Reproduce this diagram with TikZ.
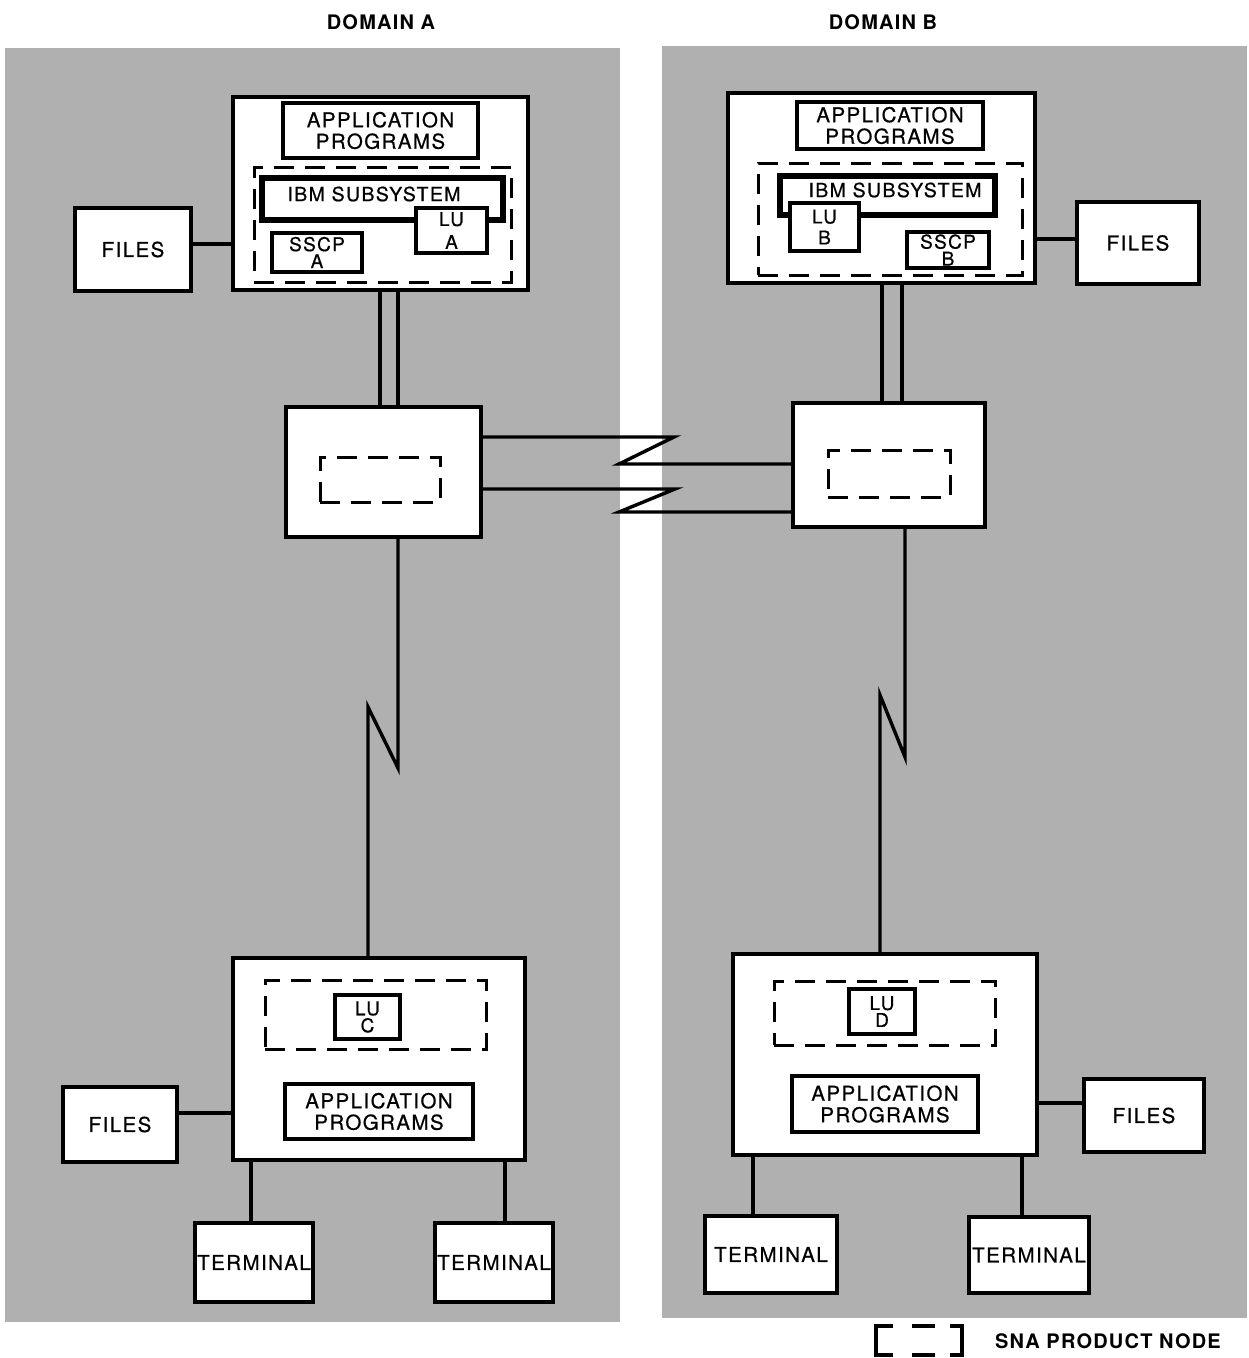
\documentclass[tikz,border=0pt]{standalone}
\usepackage{fontspec}
\setmainfont{TeX Gyre Heros}[LetterSpace=7,FakeBold=0.6]
\newfontfamily\headfont{TeX Gyre Heros}[LetterSpace=6]
\definecolor{panelgray}{RGB}{176,176,176}
\newcommand\mkbox[7]{\node[#1,minimum width={#4-#2},minimum height={#5-#3}] (#6) at ({(#2+#4)/2},{(#3+#5)/2}) {#7};}
\begin{document}
\begin{tikzpicture}[x=1pt,y=-1pt,
  panel/.style={fill=panelgray,draw=none},
  box/.style={draw,line width=3.4pt,fill=white,inner sep=0pt,outer sep=0pt,align=center,
    font=\fontsize{20.5}{21.5}\selectfont},
  smallbox/.style={box,font=\fontsize{19}{17}\selectfont},
  thickbox/.style={draw,line width=5.5pt,fill=white,inner sep=0pt,outer sep=0pt},
  dbox/.style={draw,line width=3pt,dash pattern=on 20pt off 11pt,inner sep=0pt,outer sep=0pt},
  link/.style={line width=3.4pt},
  txt/.style={inner sep=0pt,font=\fontsize{19.5}{21}\selectfont},
  head/.style={inner sep=0pt,font=\headfont\bfseries\fontsize{20}{22}\selectfont}]
\useasboundingbox (0,0) rectangle (1249,1358);
% panels
\fill[panel] (5,48) rectangle (620,1322);
\fill[panel] (662,46) rectangle (1247,1318);
\node[head] (domA) at (381,22) {DOMAIN A};
\node[head] (domB) at (883,22) {DOMAIN B};
% ---------- Domain A host
\mkbox{box}{233}{97}{528}{290}{hostA}{}
\mkbox{box}{283}{103}{478}{158}{appA}{APPLICATION\\PROGRAMS}
\mkbox{dbox}{254}{167}{511}{282}{dashA}{}
\mkbox{thickbox}{262}{178}{503}{220}{subA}{}
\node[txt] (subAt) at (374,194) {IBM SUBSYSTEM};
\mkbox{smallbox,font=\fontsize{19}{23}\selectfont}{416}{208}{487}{253}{luA}{LU\\A}
\mkbox{smallbox}{272}{233}{362}{272}{sscpA}{SSCP\\A}
\mkbox{box}{75}{208}{191}{291}{filesA}{FILES}
% controller A
\mkbox{box}{286}{407}{481}{537}{ctrlA}{}
\mkbox{dbox}{320}{457}{440}{502}{cdashA}{}
% bottom A
\mkbox{box}{233}{958}{525}{1160}{botA}{}
\mkbox{dbox}{265}{980}{486}{1049}{bdashA}{}
\mkbox{smallbox}{335}{995}{400}{1039}{luC}{LU\\C}
\mkbox{box}{285}{1084}{473}{1139}{appC}{APPLICATION\\PROGRAMS}
\mkbox{box}{63}{1087}{177}{1162}{filesC}{FILES}
\mkbox{box}{195}{1223}{313}{1302}{termA1}{TERMINAL}
\mkbox{box}{435}{1223}{553}{1302}{termA2}{TERMINAL}
% ---------- Domain B host
\mkbox{box}{728}{93}{1035}{283}{hostB}{}
\mkbox{box}{797}{102}{983}{149}{appB}{APPLICATION\\PROGRAMS}
\mkbox{dbox}{758}{163}{1022}{275}{dashB}{}
\mkbox{thickbox}{780}{176}{995}{215}{subB}{}
\node[txt] (subBt) at (895,190) {IBM SUBSYSTEM};
\mkbox{smallbox,font=\fontsize{19}{21}\selectfont}{790}{203}{859}{251}{luB}{LU\\B}
\mkbox{smallbox}{907}{232}{989}{268}{sscpB}{SSCP\\B}
\mkbox{box}{1077}{202}{1199}{284}{filesB}{FILES}
% controller B
\mkbox{box}{793}{403}{985}{527}{ctrlB}{}
\mkbox{dbox}{828}{450}{950}{497}{cdashB}{}
% bottom B
\mkbox{box}{733}{954}{1037}{1155}{botB}{}
\mkbox{dbox}{774}{981}{995}{1045}{bdashB}{}
\mkbox{smallbox}{849}{989}{915}{1034}{luD}{LU\\D}
\mkbox{box}{792}{1076}{978}{1132}{appD}{APPLICATION\\PROGRAMS}
\mkbox{box}{1084}{1079}{1204}{1152}{filesD}{FILES}
\mkbox{box}{705}{1216}{837}{1293}{termB1}{TERMINAL}
\mkbox{box}{969}{1217}{1089}{1293}{termB2}{TERMINAL}
% ---------- connectors
\draw[link] ([yshift=5.5pt]filesA.east) -- ([yshift=5.5pt]filesA.east -| hostA.west);
\draw[link] ([xshift=-0.5pt]hostA.south) -- ([xshift=-0.5pt]hostA.south |- ctrlA.north);
\draw[link] ([xshift=17.5pt]hostA.south) -- ([xshift=17.5pt]hostA.south |- ctrlA.north);
\draw[link] ([yshift=4pt]filesB.west) -- ([yshift=4pt]filesB.west -| hostB.east);
\draw[link] ([xshift=0.5pt]hostB.south) -- ([xshift=0.5pt]hostB.south |- ctrlB.north);
\draw[link] ([xshift=20.5pt]hostB.south) -- ([xshift=20.5pt]hostB.south |- ctrlB.north);
% links between controllers
\coordinate (za0) at (674,437);
\coordinate (za1) at (619,464);
\coordinate (zb0) at (675,489);
\coordinate (zb1) at (619,512);
\draw[link,line join=miter] ([yshift=35pt]ctrlA.east) -- (za0) -- (za1) -- (za1 -| ctrlB.west);
\draw[link,line join=miter] ([yshift=-17pt]ctrlA.east) -- (zb0) -- (zb1) -- (zb1 -| ctrlB.west);
% vertical links
\coordinate (va1) at (398,768);
\coordinate (va2) at (368,707);
\draw[link,line join=miter] ([xshift=14.5pt]ctrlA.south) -- (va1) -- (va2) -- (va2 |- botA.north);
\coordinate (vb1) at (905,757);
\coordinate (vb2) at (880,695);
\draw[link,line join=miter] ([xshift=16pt]ctrlB.south) -- (vb1) -- (vb2) -- (vb2 |- botB.north);
% bottom connectors
\draw[link] ([yshift=11.5pt]filesC.east) -- ([yshift=11.5pt]filesC.east -| botA.west);
\draw[link] ([xshift=-3pt]termA1.north) -- ([xshift=-3pt]termA1.north |- botA.south);
\draw[link] ([xshift=11pt]termA2.north) -- ([xshift=11pt]termA2.north |- botA.south);
\draw[link] ([yshift=12.5pt]filesD.west) -- ([yshift=12.5pt]filesD.west -| botB.east);
\draw[link] ([xshift=-18pt]termB1.north) -- ([xshift=-18pt]termB1.north |- botB.south);
\draw[link] ([xshift=-7pt]termB2.north) -- ([xshift=-7pt]termB2.north |- botB.south);
% legend
\draw[link] (893,1326) -- (876,1326) -- (876,1355) -- (893,1355);
\draw[link] (912,1326) -- (935,1326);
\draw[link] (912,1355) -- (935,1355);
\draw[link] (950,1326) -- (962,1326) -- (962,1355) -- (950,1355);
\node[head,anchor=west] (legend) at (995,1341) {SNA PRODUCT NODE};
\end{tikzpicture}
\end{document}
